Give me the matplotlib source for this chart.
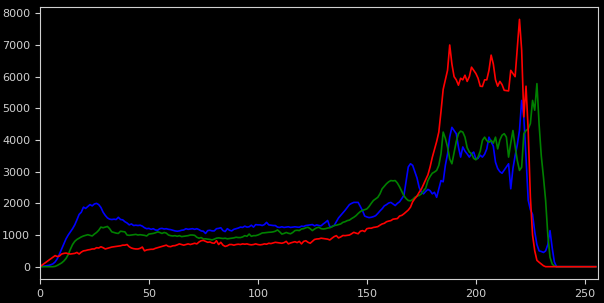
import matplotlib
matplotlib.use("Agg")
import matplotlib.pyplot as plt
import numpy as np

bins = np.arange(256)

blue = [
    0, 10, 20, 30, 40, 60, 90, 150, 250, 400, 560, 720, 880, 1000, 1100, 1200,
    1320, 1480, 1650, 1720, 1880, 1840, 1900, 1960, 1920, 1980, 2000, 1960, 1870, 1720, 1620, 1540,
    1500, 1490, 1500, 1490, 1560, 1490, 1480, 1420, 1380, 1320, 1350, 1300, 1310, 1300, 1310, 1280,
    1230, 1200, 1210, 1180, 1200, 1160, 1150, 1200, 1210, 1190, 1200, 1180, 1170, 1150, 1130, 1120,
    1130, 1150, 1160, 1200, 1180, 1190, 1200, 1180, 1200, 1170, 1130, 1120, 1050, 1140, 1150, 1130,
    1130, 1200, 1210, 1230, 1140, 1110, 1200, 1150, 1130, 1180, 1200, 1220, 1250, 1240, 1280, 1250,
    1260, 1310, 1250, 1330, 1320, 1320, 1300, 1330, 1400, 1320, 1310, 1300, 1300, 1250, 1240, 1260,
    1240, 1250, 1260, 1240, 1250, 1260, 1250, 1245, 1280, 1270, 1300, 1310, 1320, 1330, 1290, 1320,
    1300, 1290, 1350, 1400, 1460, 1260, 1270, 1300, 1420, 1540, 1620, 1700, 1780, 1870, 1960, 2000,
    2030, 2030, 2030, 1900, 1770, 1600, 1570, 1550, 1560, 1580, 1610, 1680, 1760, 1830, 1920, 1960,
    2010, 2030, 1980, 1930, 2000, 2050, 2150, 2250, 2700, 3150, 3250, 3200, 3000, 2800, 2500, 2350,
    2300, 2380, 2440, 2400, 2300, 2350, 2190, 2450, 2720, 2680, 3200, 3560, 4100, 4400, 4300, 4200,
    3780, 3460, 3780, 3650, 3560, 3460, 3560, 3620, 3400, 3420, 3520, 3460, 3550, 3720, 4090, 3950,
    3800, 3300, 3100, 3000, 2950, 3050, 3150, 3250, 2460, 3100, 3500, 3850, 4300, 5250, 4700, 3450,
    2100, 1800, 1650, 1100, 700, 500, 480, 450, 500, 700, 1140, 600, 150, 0, 0, 0,
    0, 0, 0, 0, 0, 0, 0, 0, 0, 0, 0, 0, 0, 0, 0, 0,
]

green = [
    0, 0, 0, 0, 0, 0, 0, 10, 40, 80, 120, 180, 260, 380, 550, 700,
    800, 860, 900, 940, 970, 990, 1010, 990, 970, 1030, 1080, 1150, 1250, 1230, 1250, 1270,
    1200, 1100, 1080, 1060, 1050, 1120, 1110, 1100, 1000, 990, 1000, 1010, 1020, 1000, 1010, 1000,
    990, 970, 1030, 1040, 1050, 1070, 1100, 1080, 1050, 1080, 1060, 1000, 980, 970, 980, 960,
    980, 950, 960, 970, 980, 1000, 1000, 990, 930, 900, 920, 875, 880, 870, 860, 845,
    870, 900, 910, 900, 890, 900, 880, 890, 900, 910, 930, 920, 920, 940, 980, 960,
    1030, 960, 980, 980, 1000, 1030, 1065, 1070, 1080, 1087, 1090, 1100, 1120, 1160, 1100, 1030,
    1050, 1080, 1055, 1040, 1080, 1140, 1150, 1140, 1190, 1200, 1230, 1245, 1200, 1140, 1190, 1230,
    1245, 1200, 1190, 1200, 1220, 1230, 1260, 1300, 1310, 1330, 1350, 1400, 1420, 1455, 1470, 1520,
    1560, 1610, 1680, 1740, 1780, 1800, 1825, 1900, 2000, 2090, 2140, 2190, 2300, 2460, 2540, 2620,
    2680, 2720, 2710, 2720, 2640, 2520, 2380, 2240, 2150, 2090, 2080, 2120, 2190, 2230, 2250, 2300,
    2400, 2480, 2720, 2850, 2950, 2990, 3040, 3200, 3560, 4250, 4050, 3780, 3400, 3250, 3600, 3950,
    4200, 4280, 4250, 4090, 3760, 3620, 3570, 3420, 3375, 3460, 3650, 3990, 4090, 3980, 3930, 3990,
    3900, 4090, 3720, 4000, 4150, 4200, 4090, 3460, 3900, 4300, 3800, 3350, 3040, 3140, 4200, 4300,
    4350, 4520, 5250, 4940, 5780, 4500, 3500, 2830, 2090, 1000, 300, 85, 20, 0, 0, 0,
    0, 0, 0, 0, 0, 0, 0, 0, 0, 0, 0, 0, 0, 0, 0, 0,
]

red = [
    0, 50, 100, 150, 200, 250, 300, 350, 320, 340, 400, 420, 430, 410, 400, 410,
    420, 450, 400, 460, 500, 510, 530, 540, 560, 560, 600, 590, 630, 600, 560, 580,
    600, 620, 630, 640, 650, 660, 680, 680, 700, 630, 590, 570, 560, 560, 580, 620,
    500, 530, 540, 550, 550, 580, 600, 620, 640, 660, 680, 640, 633, 660, 665, 690,
    720, 700, 680, 700, 720, 700, 720, 740, 720, 780, 820, 830, 800, 770, 780, 750,
    740, 820, 700, 770, 680, 640, 660, 700, 700, 680, 700, 710, 700, 720, 710, 720,
    700, 690, 700, 720, 700, 690, 700, 720, 710, 740, 730, 750, 770, 760, 750, 740,
    760, 800, 720, 750, 770, 790, 760, 800, 720, 800, 820, 770, 740, 800, 860, 875,
    880, 900, 890, 880, 870, 844, 900, 950, 980, 908, 940, 985, 980, 990, 1000, 1040,
    1085, 1060, 1040, 1120, 1140, 1110, 1200, 1215, 1215, 1240, 1250, 1265, 1310, 1350, 1370, 1420,
    1440, 1455, 1500, 1510, 1520, 1600, 1620, 1670, 1730, 1790, 1880, 2050, 2150, 2230, 2350, 2450,
    2600, 2750, 2900, 3150, 3450, 3700, 3950, 4250, 4900, 5600, 5900, 6200, 7000, 6400, 6000, 5900,
    5730, 5950, 5900, 6045, 5850, 6000, 6300, 6200, 6100, 5950, 5700, 5690, 5900, 5900, 6200, 6680,
    6400, 5900, 5700, 5850, 5750, 5570, 5560, 5550, 6200, 6100, 6000, 6900, 7810, 6840, 4730, 5700,
    4300, 2200, 1000, 500, 200, 140, 85, 30, 0, 0, 0, 0, 0, 0, 0, 0,
    0, 0, 0, 0, 0, 0, 0, 0, 0, 0, 0, 0, 0, 0, 0, 0,
]

plt.style.use("dark_background")
fig = plt.figure(figsize=(6.04, 3.03), dpi=100)
ax = fig.add_subplot(111)
fig.subplots_adjust(left=0.066, right=0.990, bottom=0.079, top=0.977)

for vals, col in ((blue, "b"), (green, "g"), (red, "r")):
    ax.plot(bins, vals, color=col, linewidth=1.2)

ax.set_xlim([0, 256])
for s in ax.spines.values():
    s.set_color("#d0d0d0")
ax.tick_params(colors="#d0d0d0", labelsize=8)

fig.savefig("out.png", dpi=100)
